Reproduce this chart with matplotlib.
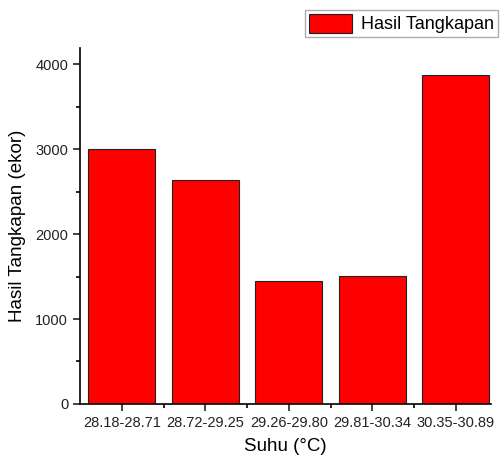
import numpy as np
import matplotlib.pyplot as plt

plt.rcParams['font.family'] = ['Liberation Sans', 'DejaVu Sans']

kelas_suhu = ['28.18-28.71', '28.72-29.25', '29.26-29.80', '29.81-30.34', '30.35-30.89']
hasil_tangkapan = [3005, 2640, 1450, 1505, 3875]

fig = plt.figure(figsize=(5.03, 4.59), dpi=100)
ax = fig.add_axes([0.159, 0.120, 0.817, 0.775])

x = np.arange(len(kelas_suhu))
ax.bar(x, hasil_tangkapan, width=0.8, color='#ff0000', edgecolor='#222222',
       linewidth=0.8, label='Hasil Tangkapan')

ax.set_xlim(-0.5, 4.42)
ax.set_ylim(0, 4190)
ax.set_xticks(x)
ax.set_xticklabels(kelas_suhu)
ax.set_xticks(x[:-1] + 0.5, minor=True)
ax.set_yticks([0, 1000, 2000, 3000, 4000])
ax.set_yticks([500, 1500, 2500, 3500], minor=True)

for s in ['top', 'right']:
    ax.spines[s].set_visible(False)
ax.spines['left'].set_linewidth(1.2)
ax.spines['bottom'].set_linewidth(1.2)
ax.tick_params(which='major', direction='out', length=5, width=1.2, labelsize=10.5, colors='#222222')
ax.tick_params(which='minor', direction='out', length=3, width=1.2)

ax.set_xlabel('Suhu (°C)', fontsize=13.5, labelpad=6)
ax.set_ylabel('Hasil Tangkapan (ekor)', fontsize=13.5, labelpad=7)

leg = fig.legend(loc='upper right', bbox_to_anchor=(0.997, 0.985), fontsize=13,
                 frameon=True, fancybox=False, edgecolor='#999999',
                 handlelength=2.4, handleheight=1.2, borderpad=0.2,
                 handletextpad=0.5, borderaxespad=0.2)
leg.get_frame().set_linewidth(1.0)

fig.savefig('out.png', dpi=100)
